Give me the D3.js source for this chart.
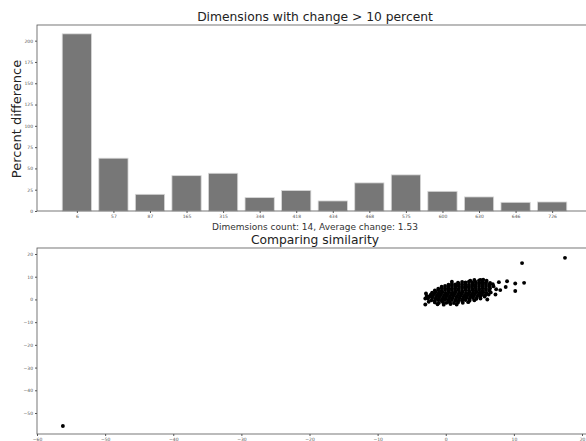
<!DOCTYPE html>
<html><head><meta charset="utf-8">
<script src="https://cdn.jsdelivr.net/npm/d3@7"></script>
<style>body{margin:0;background:#fff}svg{display:block}text{font-family:"DejaVu Sans",sans-serif}</style>
</head><body>
<svg id="c" width="586" height="441"></svg>
<script>
const dims = ["6","57","87","165","315","344","418","434","468","575","600","630","646","726"];
const pctDiff = [208, 62, 19.6, 41.5, 44.3, 15.7, 24, 11.8, 33, 42.4, 23.1, 16.5, 10.2, 10.6];
const barYTicks = [0,25,50,75,100,125,150,175,200];
const scatX = [-60,-50,-40,-30,-20,-10,0,10,20];
const scatY = [-50,-40,-30,-20,-10,0,10,20];
const simPoints = [
[3.6,8.3],[4.2,8.6],[4.9,8.4],[5.5,8.7],[6.0,8.2],[5.1,8.6],
[1.8,7.4],[2.4,7.7],[2.9,7.5],[3.4,7.8],[3.9,7.5],[4.4,7.7],[4.9,7.4],[5.4,7.6],[5.9,7.5],[6.5,7.3],
[0.4,6.5],[0.9,6.8],[1.4,6.6],[1.9,6.9],[2.4,6.6],[2.9,6.8],[3.4,6.5],[3.9,6.8],[4.4,6.6],[4.9,6.9],[5.4,6.6],[5.9,6.8],[6.4,6.5],[6.9,6.7],
[-0.6,5.6],[-0.1,5.9],[0.4,5.7],[0.9,6.0],[1.4,5.7],[1.9,5.9],[2.4,5.6],[2.9,5.9],[3.4,5.7],[3.9,6.0],[4.4,5.7],[4.9,5.9],[5.4,5.6],[5.9,5.9],[6.4,5.7],[7.0,5.8],
[-1.1,4.7],[-0.6,5.0],[-0.1,4.8],[0.4,5.1],[0.9,4.8],[1.4,5.0],[1.9,4.7],[2.4,5.0],[2.9,4.8],[3.4,5.1],[3.9,4.8],[4.4,5.0],[4.9,4.7],[5.4,5.0],[5.9,4.8],[6.5,4.9],
[-1.6,3.9],[-1.1,4.1],[-0.6,3.8],[-0.1,4.1],[0.4,3.9],[0.9,4.2],[1.4,3.9],[1.9,4.1],[2.4,3.8],[2.9,4.1],[3.4,3.9],[3.9,4.2],[4.4,3.9],[4.9,4.1],[5.4,3.8],[5.9,4.1],[6.4,3.9],
[-2.0,3.0],[-1.5,3.3],[-1.0,3.0],[-0.5,3.2],[0.0,2.9],[0.5,3.2],[1.0,3.0],[1.5,3.3],[2.0,3.0],[2.5,3.2],[3.0,2.9],[3.5,3.2],[4.0,3.0],[4.5,3.3],[5.0,3.0],[5.5,3.2],[6.0,2.9],[6.6,3.1],
[-2.2,2.1],[-1.7,2.4],[-1.2,2.1],[-0.7,2.3],[-0.2,2.0],[0.3,2.3],[0.8,2.1],[1.3,2.4],[1.8,2.1],[2.3,2.3],[2.8,2.0],[3.3,2.3],[3.8,2.1],[4.3,2.4],[4.8,2.1],[5.3,2.3],[5.8,2.0],[6.3,2.2],
[-2.4,1.3],[-1.9,1.5],[-1.4,1.2],[-0.9,1.4],[-0.4,1.1],[0.1,1.4],[0.6,1.2],[1.1,1.5],[1.6,1.2],[2.1,1.4],[2.6,1.1],[3.1,1.4],[3.6,1.2],[4.1,1.5],[4.6,1.2],[5.1,1.4],[5.7,1.3],
[-2.6,0.4],[-2.0,0.6],[-1.5,0.3],[-1.0,0.5],[-0.5,0.2],[0.0,0.5],[0.5,0.3],[1.0,0.6],[1.5,0.3],[2.0,0.5],[2.5,0.2],[3.0,0.5],[3.5,0.3],[4.0,0.6],[4.5,0.3],[5.1,0.4],
[-2.1,-0.4],[-1.6,-0.6],[-1.1,-0.3],[-0.6,-0.5],[-0.1,-0.2],[0.4,-0.5],[0.9,-0.3],[1.4,-0.6],[1.9,-0.4],[2.4,-0.6],[2.9,-0.3],[3.5,-0.5],[4.2,-0.4],
[-1.6,-1.3],[-1.0,-1.5],[-0.4,-1.2],[0.1,-1.5],[0.6,-1.3],[1.2,-1.6],[1.8,-1.3],[2.5,-1.5],[3.3,-1.2],
[-1.2,-2.1],[-0.3,-2.3],[0.7,-2.0],[1.6,-2.2],
[-3.0,-2.2],[-3.0,0.4],[-2.8,1.5],[-2.5,-1.0],[-2.9,2.6],
[7.8,7.6],[9.0,8.0],[10.2,7.0],[11.5,7.3],[10.2,3.7],[8.0,4.1],[8.8,5.5],[6.1,0.0],[7.3,2.2],[7.4,4.5],[0.9,7.8],
[11.2,16.0],[17.5,18.3],[-56.2,-55.7]
];

const svg = d3.select("#c");
const axisCol = "#555", tickCol = "#555";

// ---------- Bar chart ----------
const bx = d3.scaleLinear().domain([-1.09, dims.length - 1 + 1.09]).range([37, 592]);
const by = d3.scaleLinear().domain([0, 218.4]).range([211, 25]);
const g1 = svg.append("g");
g1.selectAll("rect.bar").data(pctDiff).join("rect")
  .attr("x", (d,i) => bx(i - 0.4)).attr("width", bx(0.8) - bx(0))
  .attr("y", d => by(d)).attr("height", d => by(0) - by(d))
  .attr("fill", "#777").attr("stroke", "#d8d8d8").attr("stroke-width", 0.8);
g1.append("rect").attr("x", 37).attr("y", 25).attr("width", 592-37).attr("height", 211-25)
  .attr("fill", "none").attr("stroke", axisCol).attr("stroke-width", 0.8);
const ax1 = d3.axisLeft(by).tickValues(barYTicks).tickSize(2).tickPadding(2);
g1.append("g").attr("transform","translate(37,0)").call(ax1)
  .call(g => { g.select(".domain").remove(); g.selectAll("text").attr("font-size", 4.5).attr("fill", tickCol); g.selectAll("line").attr("stroke", axisCol); });
const ax1b = d3.axisBottom(bx).tickValues(d3.range(dims.length)).tickFormat(i => dims[i]).tickSize(2).tickPadding(2);
g1.append("g").attr("transform","translate(0,211)").call(ax1b)
  .call(g => { g.select(".domain").remove(); g.selectAll("text").attr("font-size", 4.5).attr("fill", tickCol); g.selectAll("line").attr("stroke", axisCol); });
svg.append("text").attr("x", 315).attr("y", 21).attr("text-anchor","middle").attr("font-size", 12.3).attr("fill","#222")
  .text("Dimensions with change > 10 percent");
svg.append("text").attr("transform","translate(21,119) rotate(-90)").attr("text-anchor","middle").attr("font-size", 13).attr("fill","#222")
  .text("Percent difference");
svg.append("text").attr("x", 315).attr("y", 230).attr("text-anchor","middle").attr("font-size", 9).attr("fill","#333")
  .text("Dimemsions count: 14, Average change: 1.53");

// ---------- Scatter ----------
const sx = d3.scaleLinear().domain([-60, 20]).range([37, 582]);
const sy = d3.scaleLinear().domain([-50, 20]).range([413, 254]);
const g2 = svg.append("g");
g2.append("rect").attr("x", 37).attr("y", 248).attr("width", 592-37).attr("height", 434-248)
  .attr("fill", "none").attr("stroke", axisCol).attr("stroke-width", 0.8);
g2.selectAll("circle").data(simPoints).join("circle")
  .attr("cx", d => sx(d[0])).attr("cy", d => sy(d[1])).attr("r", 1.95).attr("fill", "#000");
const ax2 = d3.axisLeft(sy).tickValues(scatY).tickFormat(d => d < 0 ? "\u2212" + Math.abs(d) : d).tickSize(2).tickPadding(2);
g2.append("g").attr("transform","translate(37,0)").call(ax2)
  .call(g => { g.select(".domain").remove(); g.selectAll("text").attr("font-size", 4.5).attr("fill", tickCol); g.selectAll("line").attr("stroke", axisCol); });
const ax2b = d3.axisBottom(sx).tickValues(scatX).tickFormat(d => d < 0 ? "\u2212" + Math.abs(d) : d).tickSize(2).tickPadding(2);
g2.append("g").attr("transform","translate(0,434)").call(ax2b)
  .call(g => { g.select(".domain").remove(); g.selectAll("text").attr("font-size", 4.5).attr("fill", tickCol); g.selectAll("line").attr("stroke", axisCol); });
svg.append("text").attr("x", 315).attr("y", 244).attr("text-anchor","middle").attr("font-size", 12.3).attr("fill","#222")
  .text("Comparing similarity");
</script>
</body></html>
